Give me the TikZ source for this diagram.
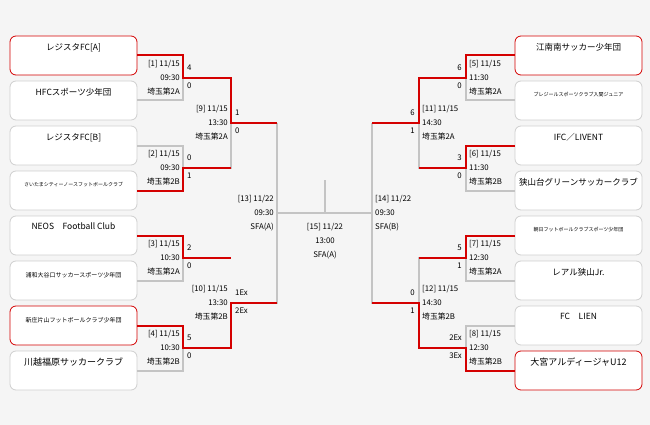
\documentclass[tikz,border=0pt]{standalone}
\usepackage{fontspec}
\setmainfont{Noto Sans CJK JP}
\usepackage{tikz}
\usetikzlibrary{positioning,calc}
\definecolor{winred}{HTML}{D40000}
\definecolor{linegray}{HTML}{C4C4C4}
\definecolor{boxgray}{HTML}{CFCFCF}
\tikzstyle{team} = [rectangle, rounded corners=6pt, draw=boxgray, fill=white, minimum width=127pt, minimum height=39pt, line width=0.8pt]
\tikzstyle{best} = [team, draw=winred]
\tikzstyle{teamname} = [font=\fontsize{8.5}{10}\selectfont, anchor=north, yshift=-4pt]
\tikzstyle{teamsmall} = [font=\fontsize{6}{7}\selectfont, anchor=north, yshift=-8pt]
\tikzstyle{teamtiny} = [font=\fontsize{5}{6}\selectfont, anchor=north, yshift=-8pt]
\tikzstyle{win} = [draw=winred, line width=2pt]
\tikzstyle{lose} = [draw=linegray, line width=2pt]
\tikzstyle{info} = [font=\fontsize{7.8}{14}\selectfont, inner sep=0pt]
\tikzstyle{score} = [font=\fontsize{7.8}{8}\selectfont, inner sep=0pt]

\begin{document}
\begin{tikzpicture}[x=1pt, y=-1pt]
    \fill[white!96!black] (0,0) rectangle (650,425);
    \useasboundingbox (0,0) rectangle (650,425);

    % Match points
    \coordinate (m1) at (183,78);
    \coordinate (m2) at (183,168);
    \coordinate (m3) at (183,258);
    \coordinate (m4) at (183,348);
    \coordinate (m9) at (231,123);
    \coordinate (m10) at (231,303);
    \coordinate (m13) at (277,213);
    \coordinate (m5) at (466,78);
    \coordinate (m6) at (466,168);
    \coordinate (m7) at (466,258);
    \coordinate (m8) at (466,348);
    \coordinate (m11) at (419,123);
    \coordinate (m12) at (419,303);
    \coordinate (m14) at (372,213);
    \coordinate (m15) at (325,213);
    \coordinate (top) at (325,180);

    % Lines (gray first)
    \draw[lose] (m1) -- (m1 -| m9);
    \draw[lose] (m9) |- (m2);
    \draw[lose] (m3) -- (m3 -| m10);
    \draw[lose] (m13) -- (m14);
    \draw[lose] (m15) -- (top);
    \draw[lose] (m9 -| m13) |- (m10);
    \draw[lose] (m11) |- (m6);
    \draw[lose] (m8) -- (m8 -| m12);
    \draw[lose] (m11 -| m14) |- (m12);
    \draw[lose] (m12) |- (m7);

    % Teams, left
    \node[best] (t1) at (73.5,55.5) {};
    \node[teamname] at (t1.north) {レジスタFC[A]};
    \node[team] (t2) at (73.5,100.5) {};
    \node[teamname] at (t2.north) {HFCスポーツ少年団};
    \node[team] (t3) at (73.5,145.5) {};
    \node[teamname] at (t3.north) {レジスタFC[B]};
    \node[team] (t4) at (73.5,190.5) {};
    \node[teamtiny] at (t4.north) {さいたまシティーノースフットボールクラブ};
    \node[team] (t5) at (73.5,235.5) {};
    \node[teamname] at (t5.north) {NEOS　Football Club};
    \node[team] (t6) at (73.5,280.5) {};
    \node[teamsmall] at (t6.north) {浦和大谷口サッカースポーツ少年団};
    \node[best] (t7) at (73.5,325.5) {};
    \node[teamsmall] at (t7.north) {新庄片山フットボールクラブ少年団};
    \node[team] (t8) at (73.5,370.5) {};
    \node[teamname, font=\fontsize{9}{10}\selectfont] at (t8.north) {川越福原サッカークラブ};

    % Teams, right
    \node[best] (t9) at (578.5,55.5) {};
    \node[teamname] at (t9.north) {江南南サッカー少年団};
    \node[team] (t10) at (578.5,100.5) {};
    \node[teamtiny] at (t10.north) {ブレジールスポーツクラブ入間ジュニア};
    \node[team] (t11) at (578.5,145.5) {};
    \node[teamname] at (t11.north) {IFC／LIVENT};
    \node[team] (t12) at (578.5,190.5) {};
    \node[teamname] at (t12.north) {狭山台グリーンサッカークラブ};
    \node[team] (t13) at (578.5,235.5) {};
    \node[teamtiny] at (t13.north) {朝日フットボールクラブスポーツ少年団};
    \node[team] (t14) at (578.5,280.5) {};
    \node[teamname] at (t14.north) {レアル狭山Jr.};
    \node[team] (t15) at (578.5,325.5) {};
    \node[teamname] at (t15.north) {FC　LIEN};
    \node[best] (t16) at (578.5,370.5) {};
    \node[teamname, font=\fontsize{9}{10}\selectfont] at (t16.north) {大宮アルディージャU12};

    % First round
    \draw[lose] (t2.east) -| (m1);
    \draw[lose] (t3.east) -| (m2);
    \draw[lose] (t6.east) -| (m3);
    \draw[lose] (t8.east) -| (m4);
    \draw[lose] (t10.west) -| (m5);
    \draw[lose] (t12.west) -| (m6);
    \draw[lose] (t14.west) -| (m7);
    \draw[lose] (t15.west) -| (m8);

    % Winners
    \draw[win] (t1.east) -| (m1) -- (m1 -| m9) -- (m9) -- (m9 -| m13);
    \draw[win] (t4.east) -| (m2) -- (m2 -| m9);
    \draw[win] (t5.east) -| (m3) -- (m3 -| m10);
    \draw[win] (t7.east) -| (m4) -- (m4 -| m10) -- (m10) -- (m10 -| m13);
    \draw[win] (t9.west) -| (m5) -- (m5 -| m11) -- (m11) -- (m11 -| m14);
    \draw[win] (t11.west) -| (m6) -- (m6 -| m11);
    \draw[win] (t13.west) -| (m7) -- (m7 -| m12);
    \draw[win] (t16.west) -| (m8) -- (m8 -| m12) -- (m12) -- (m12 -| m14);

    % Match labels, left
    \node[info, anchor=east, align=right] at ([xshift=-3pt]m1) {[1] 11/15\\09:30\\埼玉第2A};
    \node[info, anchor=east, align=right] at ([xshift=-3pt]m2) {[2] 11/15\\09:30\\埼玉第2B};
    \node[info, anchor=east, align=right] at ([xshift=-3pt]m3) {[3] 11/15\\10:30\\埼玉第2A};
    \node[info, anchor=east, align=right] at ([xshift=-3pt]m4) {[4] 11/15\\10:30\\埼玉第2B};
    \node[info, anchor=east, align=right] at ([xshift=-3pt]m9) {[9] 11/15\\13:30\\埼玉第2A};
    \node[info, anchor=east, align=right] at ([xshift=-3pt]m10) {[10] 11/15\\13:30\\埼玉第2B};
    \node[info, anchor=east, align=right] at ([xshift=-3pt]m13) {[13] 11/22\\09:30\\SFA(A)};
    \node[info, anchor=north, align=center] at ([yshift=-10pt]m15) {[15] 11/22\\13:00\\SFA(A)};

    % Match labels, right
    \node[info, anchor=west, align=left] at ([xshift=3pt]m5) {[5] 11/15\\11:30\\埼玉第2A};
    \node[info, anchor=west, align=left] at ([xshift=3pt]m6) {[6] 11/15\\11:30\\埼玉第2B};
    \node[info, anchor=west, align=left] at ([xshift=3pt]m7) {[7] 11/15\\12:30\\埼玉第2A};
    \node[info, anchor=west, align=left] at ([xshift=3pt]m8) {[8] 11/15\\12:30\\埼玉第2B};
    \node[info, anchor=west, align=left] at ([xshift=3pt]m11) {[11] 11/15\\14:30\\埼玉第2A};
    \node[info, anchor=west, align=left] at ([xshift=3pt]m12) {[12] 11/15\\14:30\\埼玉第2B};
    \node[info, anchor=west, align=left] at ([xshift=3pt]m14) {[14] 11/22\\09:30\\SFA(B)};

    % Scores, left
    \node[score, anchor=west] at ([xshift=4pt, yshift=10pt]m1) {4};
    \node[score, anchor=west] at ([xshift=4pt, yshift=-8pt]m1) {0};
    \node[score, anchor=west] at ([xshift=4pt, yshift=10pt]m2) {0};
    \node[score, anchor=west] at ([xshift=4pt, yshift=-8pt]m2) {1};
    \node[score, anchor=west] at ([xshift=4pt, yshift=10pt]m3) {2};
    \node[score, anchor=west] at ([xshift=4pt, yshift=-8pt]m3) {0};
    \node[score, anchor=west] at ([xshift=4pt, yshift=10pt]m4) {5};
    \node[score, anchor=west] at ([xshift=4pt, yshift=-8pt]m4) {0};
    \node[score, anchor=west] at ([xshift=4pt, yshift=10pt]m9) {1};
    \node[score, anchor=west] at ([xshift=4pt, yshift=-8pt]m9) {0};
    \node[score, anchor=west] at ([xshift=4pt, yshift=10pt]m10) {1Ex};
    \node[score, anchor=west] at ([xshift=4pt, yshift=-8pt]m10) {2Ex};

    % Scores, right
    \node[score, anchor=east] at ([xshift=-4pt, yshift=10pt]m5) {6};
    \node[score, anchor=east] at ([xshift=-4pt, yshift=-8pt]m5) {0};
    \node[score, anchor=east] at ([xshift=-4pt, yshift=10pt]m6) {3};
    \node[score, anchor=east] at ([xshift=-4pt, yshift=-8pt]m6) {0};
    \node[score, anchor=east] at ([xshift=-4pt, yshift=10pt]m7) {5};
    \node[score, anchor=east] at ([xshift=-4pt, yshift=-8pt]m7) {1};
    \node[score, anchor=east] at ([xshift=-4pt, yshift=10pt]m8) {2Ex};
    \node[score, anchor=east] at ([xshift=-4pt, yshift=-8pt]m8) {3Ex};
    \node[score, anchor=east] at ([xshift=-4pt, yshift=10pt]m11) {6};
    \node[score, anchor=east] at ([xshift=-4pt, yshift=-8pt]m11) {1};
    \node[score, anchor=east] at ([xshift=-4pt, yshift=10pt]m12) {0};
    \node[score, anchor=east] at ([xshift=-4pt, yshift=-8pt]m12) {1};
\end{tikzpicture}
\end{document}
